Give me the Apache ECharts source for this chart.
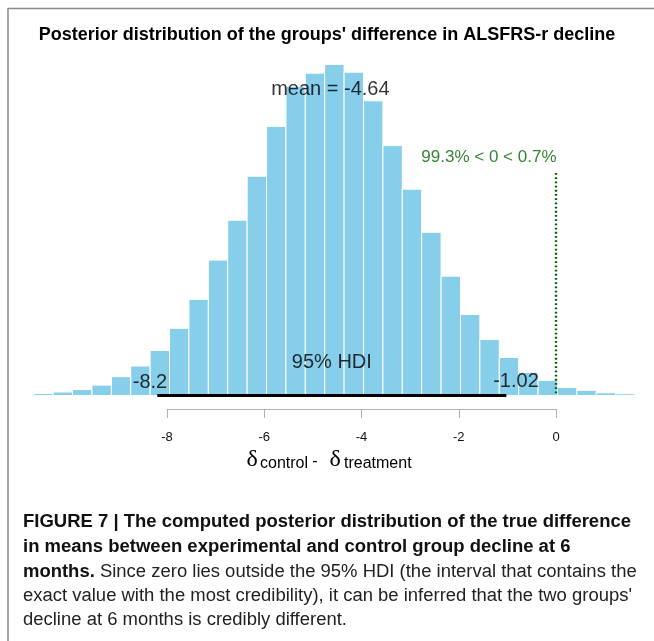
<!DOCTYPE html>
<html>
<head>
<meta charset="utf-8">
<script src="https://cdn.jsdelivr.net/npm/echarts@6/dist/echarts.min.js"></script>
<style>
html,body{margin:0;padding:0;background:#fff;}
#chart{width:654px;height:641px;}
</style>
</head>
<body>
<div id="chart"></div>
<script>
// histogram of the posterior: bin edges and density of each bin
var binEdges = [-10.740, -10.341, -9.942, -9.543, -9.144, -8.746, -8.347, -7.948,
    -7.549, -7.150, -6.751, -6.352, -5.953, -5.554, -5.156, -4.757, -4.358,
    -3.959, -3.560, -3.161, -2.762, -2.363, -1.964, -1.566, -1.167, -0.768,
    -0.369, 0.030, 0.429, 0.828, 1.227, 1.626];
var density = [0.0014, 0.0024, 0.0041, 0.0072, 0.0130, 0.0204, 0.0312, 0.0465,
    0.0665, 0.0937, 0.1213, 0.1518, 0.1862, 0.2139, 0.2231, 0.2291, 0.2238,
    0.2040, 0.1730, 0.1428, 0.1130, 0.0826, 0.0561, 0.0388, 0.0263, 0.0160,
    0.0105, 0.0055, 0.0036, 0.0019, 0.0012];
var meanVal = -4.64;
var hdiLow = -8.2;
var hdiHigh = -1.02;
var compVal = 0;
var pctBelow = 99.3;
var pctAbove = 0.7;

var titleText = "Posterior distribution of the groups' difference in ALSFRS-r decline";
var captionBold = [
    'FIGURE 7 | The computed posterior distribution of the true difference',
    'in means between experimental and control group decline at 6'
];
var captionRest = [
    'Since zero lies outside the 95% HDI (the interval that contains the',
    "exact value with the most credibility), it can be inferred that the two groups'",
    'decline at 6 months is credibly different.'
];

var maxDens = Math.max.apply(null, density);
var cenTendHt = 0.9 * maxDens;
var cvHt = 0.7 * maxDens;

var bars = [];
for (var i = 0; i < density.length; i++) {
    bars.push([binEdges[i], binEdges[i + 1], density[i]]);
}

function renderBar(params, api) {
    var lo = api.coord([api.value(0), 0]);
    var hi = api.coord([api.value(1), api.value(2)]);
    return {
        type: 'rect',
        shape: {x: lo[0], y: hi[1], width: hi[0] - lo[0], height: lo[1] - hi[1]},
        style: {fill: '#87CEEB', stroke: '#ffffff', lineWidth: 1}
    };
}

function textPoint(x, y, txt, size, color, align, dx, dy) {
    return {
        value: [x, y],
        label: {
            show: true, formatter: txt, position: 'inside',
            align: align, verticalAlign: 'middle', offset: [dx, dy],
            fontSize: size, color: color, fontFamily: 'Liberation Sans'
        }
    };
}

// widths of the caption, used to squeeze the font like the original
var ctx = document.createElement('canvas').getContext('2d');
ctx.font = 'bold 18px "Liberation Sans"';
var boldScale = 608 / ctx.measureText(captionBold[0]).width;
ctx.font = '18px "Liberation Sans"';
var regScale = 609 / ctx.measureText(captionRest[1]).width;

var font = 'Liberation Sans';
var graphics = [
    {type: 'line', shape: {x1: 8, y1: 8.5, x2: 654, y2: 8.5}, style: {stroke: '#8a8a8a', lineWidth: 1.5}},
    {type: 'line', shape: {x1: 8, y1: 8, x2: 8, y2: 641}, style: {stroke: '#8a8a8a', lineWidth: 1.5}},
    // axis name: delta control - delta treatment
    {type: 'text', x: 246.5, y: 460, style: {text: '\u03b4', font: '24px "Liberation Serif"', fill: '#000', verticalAlign: 'middle'}},
    {type: 'text', x: 260, y: 463.5, style: {text: 'control', font: '16px "Liberation Sans"', fill: '#000', verticalAlign: 'middle'}},
    {type: 'text', x: 315, y: 462, style: {text: '-', font: '16px "Liberation Sans"', fill: '#000', align: 'center', verticalAlign: 'middle'}},
    {type: 'text', x: 329.5, y: 460, style: {text: '\u03b4', font: '24px "Liberation Serif"', fill: '#000', verticalAlign: 'middle'}},
    {type: 'text', x: 344, y: 463.5, style: {text: 'treatment', font: '16px "Liberation Sans"', fill: '#000', verticalAlign: 'middle'}},
    // caption
    {type: 'text', x: 23, y: 522, scaleX: boldScale, style: {text: captionBold[0], font: 'bold 18px "Liberation Sans"', fill: '#111', verticalAlign: 'middle'}},
    {type: 'text', x: 23, y: 547, scaleX: boldScale, style: {text: captionBold[1], font: 'bold 18px "Liberation Sans"', fill: '#111', verticalAlign: 'middle'}},
    {type: 'text', x: 23, y: 572, scaleX: regScale, style: {
        text: '{b|months.} ' + captionRest[0], font: '18px "Liberation Sans"', fill: '#222', verticalAlign: 'middle',
        rich: {b: {fontWeight: 'bold', fontSize: 18, fontFamily: font, fill: '#111'}}
    }},
    {type: 'text', x: 23, y: 596, scaleX: regScale, style: {text: captionRest[1], font: '18px "Liberation Sans"', fill: '#222', verticalAlign: 'middle'}},
    {type: 'text', x: 23, y: 620, scaleX: regScale, style: {text: captionRest[2], font: '18px "Liberation Sans"', fill: '#222', verticalAlign: 'middle'}}
];

var option = {
    animation: false,
    title: {
        text: titleText, left: 'center', top: 21,
        textStyle: {fontSize: 18, fontWeight: 'bold', color: '#000', fontFamily: font}
    },
    grid: [
        {left: 26, right: 15.34, top: 34.3, bottom: 245.5},
        {left: 167, right: 98, top: 380, bottom: 232}
    ],
    xAxis: [
        {gridIndex: 0, type: 'value', min: -10.9, max: 1.7, show: false},
        {
            gridIndex: 1, type: 'value', min: -8, max: 0, interval: 2,
            axisLine: {show: true, lineStyle: {color: '#b0b0b0', width: 1}},
            axisTick: {show: true, inside: false, length: 9, lineStyle: {color: '#b0b0b0'}},
            axisLabel: {margin: 22, fontSize: 13, color: '#111', fontFamily: font},
            splitLine: {show: false}
        }
    ],
    yAxis: [
        {gridIndex: 0, type: 'value', min: 0, max: 0.25, show: false},
        {gridIndex: 1, type: 'value', min: 0, max: 1, show: false}
    ],
    series: [
        {
            type: 'custom', xAxisIndex: 0, yAxisIndex: 0,
            renderItem: renderBar, data: bars,
            encode: {x: [0, 1], y: 2}, silent: true, z: 2
        },
        {
            type: 'line', xAxisIndex: 0, yAxisIndex: 0, symbol: 'none', silent: true, z: 4,
            data: [[hdiLow, 0], [hdiHigh, 0]],
            lineStyle: {color: '#000', width: 3, cap: 'butt'}
        },
        {
            type: 'line', xAxisIndex: 0, yAxisIndex: 0, symbol: 'none', silent: true, z: 4,
            data: [[compVal, 0.96 * cvHt], [compVal, 0]],
            lineStyle: {color: '#006400', width: 2.4, type: [1.8, 2.4], cap: 'butt'}
        },
        {
            type: 'scatter', xAxisIndex: 0, yAxisIndex: 0, symbolSize: 0, silent: true, z: 6,
            data: [
                textPoint(meanVal, cenTendHt, 'mean = ' + meanVal, 20, '#000', 'center', 0, -8),
                textPoint(compVal, cvHt, pctBelow + '% < ' + compVal + ' < ' + pctAbove + '%', 17, '#006400', 'right', 0.5, -6.5),
                textPoint((hdiLow + hdiHigh) / 2, 0, '95% HDI', 20, '#000', 'center', 0, -33.5),
                textPoint(hdiLow, 0, String(hdiLow), 20, '#000', 'center', -7.3, -13.5),
                textPoint(hdiHigh, 0, String(hdiHigh), 20, '#000', 'center', 9.6, -14)
            ]
        }
    ],
    graphic: graphics
};

var chart = echarts.init(document.getElementById('chart'));
chart.setOption(option);
</script>
</body>
</html>
